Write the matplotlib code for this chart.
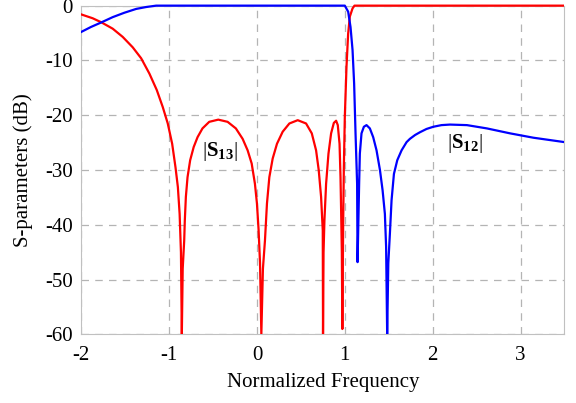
import matplotlib
matplotlib.use('Agg')
import matplotlib.pyplot as plt
from matplotlib.patches import Rectangle

plt.rcParams['font.family'] = 'serif'
plt.rcParams['font.serif'] = ['Liberation Serif', 'DejaVu Serif']
plt.rcParams['mathtext.fontset'] = 'custom'
plt.rcParams['mathtext.rm'] = 'Liberation Serif'
plt.rcParams['mathtext.bf'] = 'Liberation Serif:bold'
plt.rcParams['axes.unicode_minus'] = False

# |S13|
s13_x = [-2.0, -1.87, -1.77, -1.642, -1.528, -1.414, -1.318, -1.224, -1.14, -1.072,
         -1.015, -0.965, -0.927, -0.90, -0.88, -0.865, -0.855,
         -0.845, -0.828, -0.821, -0.809, -0.79, -0.76, -0.72, -0.676, -0.62,
         -0.543, -0.44, -0.334, -0.24, -0.163, -0.106, -0.06, -0.023, 0.0, 0.019,
         0.035, 0.05,
         0.068, 0.091, 0.114, 0.141, 0.179, 0.228, 0.293, 0.369, 0.464, 0.559,
         0.624, 0.673, 0.703, 0.73, 0.749, 0.752,
         0.758, 0.768, 0.787, 0.814, 0.844, 0.875, 0.901, 0.92, 0.94, 0.951,
         0.958, 0.966, 0.972,
         0.981, 0.989, 1.0, 1.019, 1.038, 1.057, 1.088, 1.11, 1.5, 2.5, 3.5]
s13_y = [-1.6, -2.3, -3.05, -4.2, -5.7, -7.6, -9.6, -12.4, -15.4, -18.5,
         -21.5, -25.2, -29.5, -33.1, -38.0, -45.0, -60,
         -48.0, -42.9, -39.2, -34.9, -31.3, -28.2, -25.8, -24.0, -22.4,
         -21.2, -20.8, -21.2, -22.4, -24.3, -26.4, -28.8, -32.5, -36.1, -41.0,
         -47.0, -60,
         -48.0, -42.9, -36.1, -31.3, -27.9, -25.2, -23.0, -21.5, -20.9, -21.5,
         -23.3, -26.4, -30.0, -34.9, -41.0, -60,
         -45.0, -39.2, -32.5, -27.0, -23.3, -21.4, -21.0, -21.8, -25.2, -31.3,
         -37.4, -45.0, -59.0,
         -40.0, -29.5, -20.3, -11.2, -5.1, -2.0, -0.5, 0, 0, 0, 0]

# |S12|
s12_x = [-2.0, -1.89, -1.77, -1.642, -1.51, -1.375, -1.26, -1.147, 0.0, 1.0,
         1.038, 1.065, 1.088, 1.106, 1.122, 1.14, 1.145,
         1.163, 1.171, 1.19, 1.217, 1.247, 1.285, 1.323, 1.361, 1.40,
         1.43, 1.456, 1.47, 1.482,
         1.495, 1.513, 1.532, 1.559, 1.597, 1.646, 1.703, 1.741, 1.80, 1.855,
         1.93, 2.007, 2.1, 2.197, 2.39, 2.617, 2.88, 3.147, 3.5]
s12_y = [-4.8, -3.9, -3.05, -2.1, -1.3, -0.6, -0.25, 0, 0, 0,
         -1.1, -3.9, -8.1, -14.2, -23.3, -32.5, -46.8,
         -32.5, -27.0, -23.3, -22.1, -21.8, -22.4, -24.0, -26.4, -30.0,
         -33.7, -38.0, -44.0, -60,
         -47.0, -41.6, -35.5, -30.7, -28.2, -26.4, -24.9, -24.3, -23.6, -23.1,
         -22.5, -22.1, -21.8, -21.7, -21.8, -22.4, -23.3, -24.1, -24.9]

xticks = [-2, -1, 0, 1, 2, 3]
yticks = [0, -10, -20, -30, -40, -50, -60]

fig = plt.figure(figsize=(5.76, 4.03), dpi=100)
ax = fig.add_axes([0.141, 0.17, 0.839, 0.816])

# let the 0 dB lines show full width along the top edge
clip = Rectangle((0, 0), 1, 1.03, transform=ax.transAxes, visible=False)
ax.add_patch(clip)

l1, = ax.plot(s13_x, s13_y, color='#ff0000', lw=1.6, zorder=3)
l2, = ax.plot(s12_x, s12_y, color='#0000ff', lw=1.6, zorder=3)
l1.set_clip_path(clip)
l2.set_clip_path(clip)

ax.set_xlim(-2, 3.5)
ax.set_ylim(-60, 0)
ax.set_xticks(xticks)
ax.set_yticks(yticks)
ax.grid(True, color='#b4b4b4', linestyle=(0, (6, 5)), linewidth=0.9)
for s in ax.spines.values():
    s.set_color('#c0c0c0')
ax.tick_params(axis='x', length=0, labelsize=15, pad=8)
ax.tick_params(axis='y', length=0, labelsize=15, pad=6)

ax.text(-0.425, -26.7, r'|$\mathbf{S_{13}}$|', fontsize=15, ha='center', va='center')
ax.text(2.37, -25.2, r'|$\mathbf{S_{12}}$|', fontsize=15, ha='center', va='center')

ax.set_xlabel('Normalized Frequency', fontsize=15, labelpad=6)
ax.set_ylabel('S-parameters (dB)', fontsize=15, labelpad=9)

fig.savefig('out.png', dpi=100)
